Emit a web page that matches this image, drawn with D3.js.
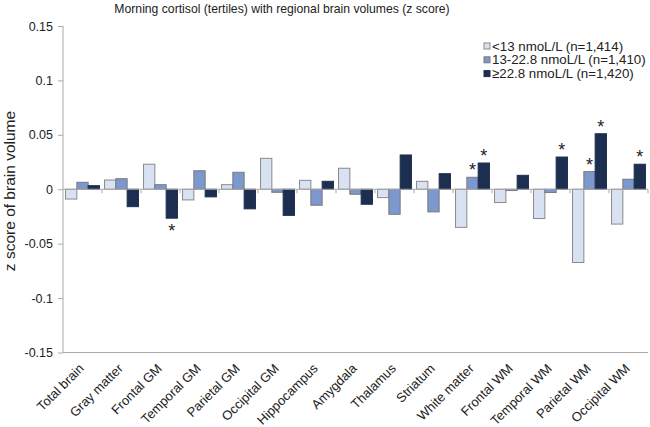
<!DOCTYPE html>
<html>
<head>
<meta charset="utf-8">
<script src="https://cdn.jsdelivr.net/npm/d3@7"></script>
<style>
    body { margin: 0; background: #fff; }
    text { font-family: "Liberation Sans", Arial, sans-serif; fill: #222; }
</style>
</head>
<body>
<div id="container"></div>
<script>

var regions = ["Total brain", "Gray matter", "Frontal GM", "Temporal GM", "Parietal GM",
               "Occipital GM", "Hippocampus", "Amygdala", "Thalamus", "Striatum",
               "White matter", "Frontal WM", "Temporal WM", "Parietal WM", "Occipital WM"];

var series = ["<13 nmoL/L (n=1,414)", "13-22.8 nmoL/L (n=1,410)", "\u226522.8 nmoL/L (n=1,420)"];

var low  = [-0.009, 0.0085, 0.023, -0.0098, 0.0042, 0.0284, 0.0082, 0.0193, -0.0077, 0.0073, -0.035, -0.0122, -0.0269, -0.0673, -0.032];
var mid  = [0.0064, 0.0097, 0.0042, 0.017, 0.0156, -0.0028, -0.0147, -0.0046, -0.023, -0.0208, 0.011, -0.0012, -0.003, 0.0162, 0.0092];
var high = [0.0033, -0.016, -0.0266, -0.007, -0.018, -0.024, 0.0073, -0.0138, 0.0315, 0.0143, 0.0241, 0.0128, 0.0296, 0.051, 0.023];

// significant bars: [region index, series index]
var stars = [[2, 2], [10, 1], [10, 2], [12, 2], [13, 1], [13, 2], [14, 2]];

var yTicks = [0.15, 0.1, 0.05, 0, -0.05, -0.1, -0.15];

var colors = ["#d9e2f3", "#7b98cf", "#1d2f50"];
var strokes = ["#8a8a8a", "#7a7a7a", "#1d2f50"];

var width = 650, height = 427;
var margin = {top: 26, left: 63, right: 2, bottom: 75};

var svg = d3.select("#container").append("svg")
    .attr("width", width)
    .attr("height", height);

var y = d3.scaleLinear()
    .domain([-0.15, 0.15])
    .range([352.5, 26]);

var x = d3.scaleBand()
    .domain(regions)
    .range([margin.left, width - margin.right])
    .paddingInner(0.13)
    .paddingOuter(0.065);

var xs = d3.scaleBand()
    .domain([0, 1, 2])
    .range([0, x.bandwidth()]);

// title
svg.append("text")
    .attr("x", 282)
    .attr("y", 13)
    .attr("text-anchor", "middle")
    .style("font-size", "12.2px")
    .text("Morning cortisol (tertiles) with regional brain volumes (z score)");

// y axis
var yAxis = svg.append("g")
    .attr("transform", "translate(" + margin.left + ",0)")
    .call(d3.axisLeft(y).tickValues(yTicks).tickSize(5).tickPadding(5)
          .tickFormat(function(d){ return d === 0 ? "0" : String(d); }));
yAxis.select(".domain").attr("stroke", "#aaa").attr("d", "M0," + y(0.15) + "V" + y(-0.15));
yAxis.selectAll(".tick line").attr("stroke", "#aaa");
yAxis.selectAll(".tick text").style("font-size", "12.5px").attr("fill", "#222");

svg.append("text")
    .attr("transform", "translate(15,191) rotate(-90)")
    .attr("text-anchor", "middle")
    .style("font-size", "15.5px")
    .text("z score of brain volume");

// bottom border line
svg.append("line")
    .attr("x1", margin.left).attr("x2", width - margin.right)
    .attr("y1", y(-0.15)).attr("y2", y(-0.15))
    .attr("stroke", "#aaa");

// bars
var data = [low, mid, high];
regions.forEach(function(r, i){
    data.forEach(function(vals, s){
        var v = vals[i];
        svg.append("rect")
            .attr("x", x(r) + xs(s))
            .attr("width", xs.bandwidth())
            .attr("y", y(Math.max(0, v)))
            .attr("height", Math.abs(y(v) - y(0)))
            .attr("fill", colors[s])
            .attr("stroke", strokes[s])
            .attr("stroke-width", 1);
    });
});

// zero line with ticks at category boundaries
svg.append("line")
    .attr("x1", margin.left).attr("x2", width - margin.right)
    .attr("y1", y(0)).attr("y2", y(0))
    .attr("stroke", "#aaa");

d3.range(1, regions.length + 1).forEach(function(k){
    var bx = margin.left + (width - margin.left - margin.right) * k / regions.length;
    svg.append("line")
        .attr("x1", bx).attr("x2", bx)
        .attr("y1", y(0)).attr("y2", y(0) + 4)
        .attr("stroke", "#aaa");
});

// stars
stars.forEach(function(p){
    var v = data[p[1]][p[0]];
    var cx = x(regions[p[0]]) + xs(p[1]) + xs.bandwidth() / 2;
    svg.append("text")
        .attr("x", cx)
        .attr("y", v >= 0 ? y(v) - 1 : y(v) + 19)
        .attr("text-anchor", "middle")
        .style("font-size", "18px")
        .text("*");
});

// x labels
regions.forEach(function(r){
    var cx = x(r) + x.bandwidth() / 2;
    svg.append("text")
        .attr("transform", "translate(" + (cx - 1) + ",366) rotate(-45)")
        .attr("text-anchor", "end")
        .attr("dy", "0.35em")
        .style("font-size", "13px")
        .text(r);
});

// legend
var legend = svg.append("g").attr("transform", "translate(484,43)");
series.forEach(function(name, s){
    var row = legend.append("g").attr("transform", "translate(0," + (s * 13.8) + ")");
    row.append("rect")
        .attr("x", 0).attr("y", 0)
        .attr("width", 6).attr("height", 6)
        .attr("fill", colors[s])
        .attr("stroke", strokes[s]);
    row.append("text")
        .attr("x", 8).attr("y", 3)
        .attr("dy", "0.35em")
        .style("font-size", "13.3px")
        .text(name);
});

</script>
</body>
</html>
